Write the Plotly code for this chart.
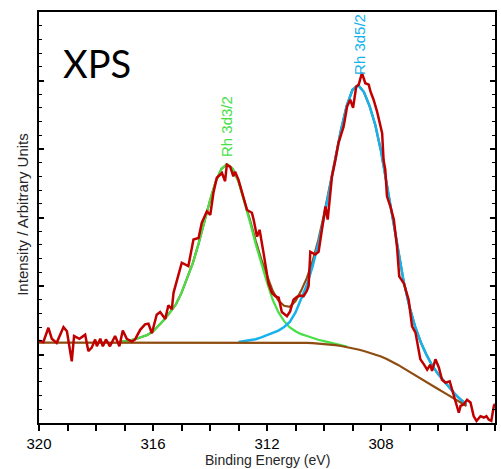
import numpy as np
import plotly.graph_objects as go

# ---- fitted-curve grid (binding energy, eV) ----
grid_x = [320.0, 319.8, 319.6, 319.4, 319.2, 319.0, 318.8, 318.6, 318.4, 318.2,
          318.0, 317.8, 317.6, 317.4, 317.2, 317.0, 316.8, 316.6, 316.4, 316.2,
          316.0, 315.8, 315.6, 315.4, 315.2, 315.0, 314.8, 314.6, 314.4, 314.2,
          314.0, 313.8, 313.6, 313.4, 313.2, 313.0, 312.8, 312.6, 312.4, 312.2,
          312.0, 311.8, 311.6, 311.4, 311.2, 311.0, 310.8, 310.6, 310.4, 310.2,
          310.0, 309.8, 309.6, 309.4, 309.2, 309.0, 308.8, 308.6, 308.4, 308.2,
          308.0, 307.8, 307.6, 307.4, 307.2, 307.0, 306.8, 306.6, 306.4, 306.2,
          306.0, 305.8, 305.6, 305.4, 305.2, 305.0]

background = [117.4] * 11 + [117.6] * 10 + [117.9] * 20 + [
    117.9, 117.8, 117.7, 117.6, 117.4, 117.2, 116.9, 116.5, 116.0, 115.5,
    114.6, 113.6, 112.4, 111.0, 109.4, 107.3, 105.1, 102.7, 100.1, 97.1,
    93.5, 89.4, 84.8, 79.7, 74.5, 69.5, 64.5, 59.6, 54.7, 49.7,
    44.7, 39.8, 34.8, 29.9, 24.9]

rh3d32_peak = [0] * 14 + [
    0.5, 1.5, 3, 5, 7.5, 11, 16, 24, 33, 44,
    55, 72, 94, 116, 144, 176, 207, 234.5, 253, 260,
    253, 234.5, 207, 176, 144, 114, 87.4, 62, 44, 31,
    22, 16.5, 12.5, 10, 7.5, 5.5, 4, 2.8, 1.8, 1.0,
    0.4] + [0] * 21

rh3d52_peak = [0] * 35 + [
    0.5, 1.5, 2.8, 4.5, 7, 10, 13, 17, 22.5, 30,
    44, 63.6, 84.9, 112.2, 145.6, 184.6, 227.9, 272.8, 315.8, 352.3,
    377.1, 386, 378, 360, 335, 300, 255, 208, 164, 126,
    95, 71, 53, 39.5, 29, 22, 17, 11.8, 7.2, 4.1,
    2.1]

# ---- measured spectrum ----
data_x = [320.0, 319.85, 319.67, 319.55, 319.38, 319.14, 319.02, 318.96, 318.85, 318.77,
          318.58, 318.38, 318.27, 318.15, 318.03, 317.97, 317.85, 317.76, 317.65, 317.51,
          317.33, 317.18, 317.06, 316.92, 316.74, 316.63, 316.45, 316.28, 316.16, 316.04,
          315.87, 315.75, 315.57, 315.46, 315.34, 315.28, 315.16, 314.99, 314.76, 314.58,
          314.40, 314.29, 314.11, 313.99, 313.88, 313.76, 313.58, 313.47, 313.41, 313.29,
          313.18, 313.12, 313.00, 312.88, 312.70, 312.53, 312.47, 312.35, 312.26, 312.12,
          312.00, 311.95, 311.83, 311.71, 311.59, 311.48, 311.30, 311.19, 311.07, 310.95,
          310.83, 310.72, 310.60, 310.54, 310.48, 310.31, 310.19, 310.07, 309.95, 309.87,
          309.78, 309.72, 309.60, 309.49, 309.40, 309.31, 309.19, 309.08, 308.98, 308.87,
          308.78, 308.67, 308.55, 308.43, 308.37, 308.26, 308.14, 308.08, 307.96, 307.91,
          307.85, 307.79, 307.67, 307.55, 307.44, 307.36, 307.20, 307.03, 306.91, 306.79,
          306.68, 306.62, 306.50, 306.38, 306.27, 306.21, 306.09, 305.97, 305.86, 305.74,
          305.59, 305.50, 305.39, 305.27, 305.21, 305.10, 304.98, 304.86, 304.75, 304.65,
          304.51, 304.39, 304.30, 304.22, 304.13, 304.04, 304.0]
data_y = [120, 118, 139, 123, 117, 140, 134, 117, 90, 127,
          123, 129, 105, 110, 122, 112, 123, 112, 122, 112,
          127, 112, 135, 123, 119, 122, 136, 144, 145, 131,
          158, 162, 152, 172, 166, 190, 209, 234, 229, 268,
          270, 292, 309, 304, 336, 358, 365, 353, 377, 374,
          360, 367, 355, 336, 311, 307, 297, 272, 282, 248,
          219, 204, 190, 185, 183, 162, 156, 163, 180, 184,
          186, 185, 193, 200, 250, 246, 250, 282, 316, 297,
          336, 360, 384, 409, 421, 433, 462, 472, 460, 491,
          494, 511, 496, 494, 484, 472, 455, 443, 423, 384,
          370, 331, 316, 297, 258, 214, 204, 180, 141, 132,
          107, 93, 86, 78, 85, 76, 93, 81, 63, 59,
          61, 49, 34, 15, 25, 27, 34, 30, 10, 3,
          10, 8, 10, 5, 3, 25, 28]

x_ticks = [320, 316, 312, 308, 304]

gx = np.array(grid_x)
bg = np.array(background)
g = np.array(rh3d32_peak, dtype=float)
c = np.array(rh3d52_peak, dtype=float)
gm = g > 0
cm = c > 0
em = gm | cm

BROWN = "#8f4c10"
RED = "#c00000"
GREEN = "#46e046"
CYAN = "#16b2ec"
FONT = "Liberation Sans, Arial, sans-serif"

fig = go.Figure()
fig.add_trace(go.Scatter(x=gx[em], y=(bg + g + c)[em], mode="lines",
                         line=dict(color=BROWN, width=2.2), hoverinfo="skip"))
fig.add_trace(go.Scatter(x=gx[gm], y=(bg + g)[gm], mode="lines",
                         line=dict(color=GREEN, width=2.2), hoverinfo="skip"))
fig.add_trace(go.Scatter(x=gx[cm], y=(bg + c)[cm], mode="lines",
                         line=dict(color=CYAN, width=2.5), hoverinfo="skip"))
fig.add_trace(go.Scatter(x=gx, y=bg, mode="lines",
                         line=dict(color=BROWN, width=2.2), hoverinfo="skip"))
fig.add_trace(go.Scatter(x=data_x, y=data_y, mode="lines",
                         line=dict(color=RED, width=2.5)))
# invisible trace to carry the mirrored right-hand axis
fig.add_trace(go.Scatter(x=[x_ticks[0]], y=[0], yaxis="y2", mode="markers",
                         marker=dict(opacity=0), hoverinfo="skip"))

yax_common = dict(
    range=[0, 600], tickmode="linear", tick0=0, dtick=100,
    ticks="inside", ticklen=5, tickwidth=1.5, tickcolor="black",
    minor=dict(dtick=20, ticks="inside", ticklen=3, tickwidth=1.3, tickcolor="black"),
    showticklabels=False,
    showline=True, linewidth=2, linecolor="black",
    showgrid=False, zeroline=False,
)

fig.update_layout(
    width=501, height=469,
    margin=dict(l=39, r=6, t=12, b=46),
    paper_bgcolor="white", plot_bgcolor="white",
    showlegend=False,
    font=dict(family=FONT, color="#111111"),
    yaxis=dict(**yax_common),
    yaxis2=dict(**yax_common, overlaying="y", side="right"),
)
fig.update_xaxes(
    range=[320, 304], tickmode="linear", tick0=320, dtick=4,
    ticks="outside", ticklen=6, tickwidth=1.6, tickcolor="black",
    minor=dict(dtick=1, ticks="outside", ticklen=6, tickwidth=1.6, tickcolor="black"),
    showline=True, linewidth=2, linecolor="black", mirror=True,
    showgrid=False, zeroline=False,
    tickfont=dict(size=15, family=FONT, color="black"),
)

fig.add_annotation(text="Binding Energy (eV)", xref="paper", yref="paper",
                   x=0.5, y=-0.091, xanchor="center", yanchor="middle",
                   showarrow=False, font=dict(size=14, family=FONT, color="#262626"))
fig.add_annotation(text="Intensity / Arbitrary Units", xref="paper", yref="paper",
                   x=-0.036, y=0.508, xanchor="center", yanchor="middle", textangle=-90,
                   showarrow=False, font=dict(size=15, family=FONT, color="#262626"))
fig.add_annotation(text="XPS", xref="paper", yref="paper",
                   x=0.048, y=0.876, xanchor="left", yanchor="middle",
                   showarrow=False, font=dict(size=38, family="Lato, sans-serif", color="black"))
fig.add_annotation(text="Rh 3d3/2", x=313.44, y=386, xanchor="center", yanchor="bottom",
                   textangle=-90, showarrow=False,
                   font=dict(size=15, family=FONT, color=GREEN))
fig.add_annotation(text="Rh 3d5/2", x=308.76, y=505, xanchor="center", yanchor="bottom",
                   textangle=-90, showarrow=False,
                   font=dict(size=15, family=FONT, color=CYAN))

fig.write_html("out.html")
